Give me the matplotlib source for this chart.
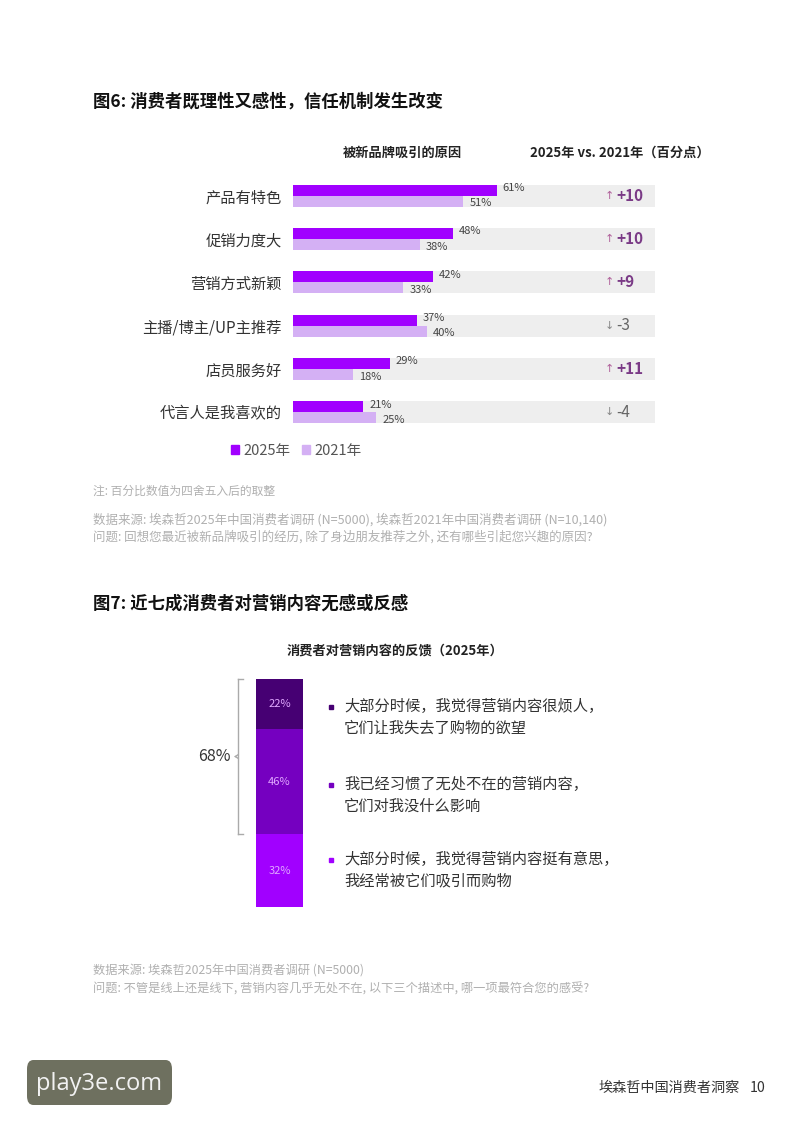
import matplotlib
matplotlib.use("Agg")
import matplotlib.pyplot as plt
import matplotlib.transforms as mtransforms
from matplotlib.patches import Patch, FancyBboxPatch
from matplotlib.lines import Line2D

plt.rcParams['font.family'] = ['Noto Sans CJK SC', 'DejaVu Sans']

# ── data ────────────────────────────────────────────────────────────────────
reasons = ["产品有特色", "促销力度大", "营销方式新颖", "主播/博主/UP主推荐", "店员服务好", "代言人是我喜欢的"]
pct_2025 = [61, 48, 42, 37, 29, 21]
pct_2021 = [51, 38, 33, 40, 18, 25]
delta_pts = [10, 10, 9, -3, 11, -4]

feedback_vals = [22, 46, 32]
feedback_text = [
    "大部分时候，我觉得营销内容很烦人，\n它们让我失去了购物的欲望",
    "我已经习惯了无处不在的营销内容，\n它们对我没什么影响",
    "大部分时候，我觉得营销内容挺有意思，\n我经常被它们吸引而购物",
]
bracket_total = 68

C25, C21, CBAND = "#a100ff", "#d4b0f4", "#eeeeee"
SEG_COLORS = ["#460073", "#7500c0", "#a100ff"]
TXT, NOTE = "#333333", "#b0b0b0"

W, H = 800, 1131
fig = plt.figure(figsize=(W / 100, H / 100), dpi=100)
fig.patch.set_facecolor("white")


def box(x0, y0, x1, y1):
    return [x0 / W, 1 - y1 / H, (x1 - x0) / W, (y1 - y0) / H]


def ftext(x, y, s, **kw):
    fig.text(x / W, 1 - y / H, s, **kw)


# ── figure 6 ────────────────────────────────────────────────────────────────
ftext(93, 102, "图6: 消费者既理性又感性，信任机制发生改变", fontsize=12.5,
      fontweight="bold", color="#111111", va="center")
ftext(402, 153, "被新品牌吸引的原因", fontsize=9.5, fontweight="bold",
      color="#222222", ha="center", va="center")
ftext(530, 153, "2025年 vs. 2021年（百分点）", fontsize=9.5, fontweight="bold",
      color="#222222", va="center")

ax = fig.add_axes(box(293, 172, 655, 436))
n = len(reasons)
ys = list(range(n))
bh = 0.255
ax.barh(ys, [108.4] * n, height=2 * bh, color=CBAND, zorder=0)
ax.barh([y - bh / 2 for y in ys], pct_2025, height=bh, color=C25, zorder=2)
ax.barh([y + bh / 2 for y in ys], pct_2021, height=bh, color=C21, zorder=2)
for y, a, b in zip(ys, pct_2025, pct_2021):
    ax.text(a + 1.8, y - bh / 2 - 0.05, f"{a}%", fontsize=8, color="#444444", va="center", zorder=3)
    ax.text(b + 1.8, y + bh / 2 + 0.05, f"{b}%", fontsize=8, color="#444444", va="center", zorder=3)

trans = mtransforms.blended_transform_factory(ax.transAxes, ax.transData)
for y, d in zip(ys, delta_pts):
    if d > 0:
        ax.text(0.873, y, "↑", transform=trans, fontsize=8, color="#b0609a",
                ha="center", va="center", family="DejaVu Sans")
        ax.text(0.893, y, f"+{d}", transform=trans, fontsize=11, fontweight="bold",
                color="#7a3a86", va="center")
    else:
        ax.text(0.873, y, "↓", transform=trans, fontsize=8, color="#888888",
                ha="center", va="center", family="DejaVu Sans")
        ax.text(0.893, y, f"{d}", transform=trans, fontsize=11, color="#666666",
                va="center")

ax.set_xlim(0, 108.4)
ax.set_ylim(n - 0.45, -0.55)
ax.set_yticks(ys)
ax.set_yticklabels(reasons, fontsize=11, color=TXT)
ax.tick_params(axis="y", length=0, pad=8)
ax.set_xticks([])
for s in ax.spines.values():
    s.set_visible(False)

fig.legend(handles=[Patch(color=C25), Patch(color=C21)], labels=["2025年", "2021年"],
           loc="center left", bbox_to_anchor=(218 / W, 1 - 451 / H), ncol=2,
           frameon=False, fontsize=10.5, handlelength=0.55, handleheight=0.55,
           handletextpad=0.3, columnspacing=0.8, labelcolor="#555555")

ftext(93, 491, "注: 百分比数值为四舍五入后的取整", fontsize=8.5, color=NOTE, va="center")
ftext(93, 520, "数据来源: 埃森哲2025年中国消费者调研 (N=5000), 埃森哲2021年中国消费者调研 (N=10,140)",
      fontsize=9, color=NOTE, va="center")
ftext(93, 537, "问题: 回想您最近被新品牌吸引的经历, 除了身边朋友推荐之外, 还有哪些引起您兴趣的原因?",
      fontsize=9, color=NOTE, va="center")

# ── figure 7 ────────────────────────────────────────────────────────────────
ftext(93, 604, "图7: 近七成消费者对营销内容无感或反感", fontsize=12.5,
      fontweight="bold", color="#111111", va="center")
ftext(395, 651, "消费者对营销内容的反馈（2025年）", fontsize=9.5, fontweight="bold",
      color="#222222", ha="center", va="center")

ax2 = fig.add_axes(box(256, 679, 303, 907))
bottom = 0
for v, c in zip(feedback_vals, SEG_COLORS):
    ax2.bar(0, v, bottom=bottom, width=1, color=c)
    ax2.text(0, bottom + v / 2, f"{v}%", fontsize=8, color="#e0a8ff",
             ha="center", va="center")
    bottom += v
ax2.set_xlim(-0.5, 0.5)
ax2.set_ylim(100, 0)
ax2.axis("off")

bt = mtransforms.blended_transform_factory(ax2.transAxes, ax2.transData)
bx, tick = -0.38, 0.1
for seg in ([bx, bx], [0, bracket_total]), ([bx, bx + tick], [0, 0]), \
           ([bx, bx + tick], [bracket_total, bracket_total]), \
           ([bx, bx - 0.06], [bracket_total / 2 - 0.8, bracket_total / 2]), \
           ([bx, bx - 0.06], [bracket_total / 2 + 0.8, bracket_total / 2]):
    ax2.add_line(Line2D(seg[0], seg[1], transform=bt, color="#aaaaaa",
                        linewidth=1, clip_on=False))
ax2.text(-0.55, bracket_total / 2, f"{bracket_total}%", transform=bt, fontsize=11.5,
         color=TXT, ha="right", va="center")

text_y = [717, 795, 870]
for ty, t, c in zip(text_y, feedback_text, SEG_COLORS):
    fig.add_artist(Line2D([331 / W], [1 - (ty - 10) / H], marker="s", markersize=3.2,
                          color=c, linestyle="none"))
    ftext(344, ty, t, fontsize=11, color=TXT, va="center", linespacing=1.35)

ftext(93, 970, "数据来源: 埃森哲2025年中国消费者调研 (N=5000)", fontsize=8.8,
      color=NOTE, va="center")
ftext(93, 989, "问题: 不管是线上还是线下, 营销内容几乎无处不在, 以下三个描述中, 哪一项最符合您的感受?",
      fontsize=8.8, color=NOTE, va="center")

# ── footer ──────────────────────────────────────────────────────────────────
ftext(740, 1088, "埃森哲中国消费者洞察", fontsize=10.2, color="#333333", ha="right", va="center")
ftext(750, 1088, "10", fontsize=10.2, color="#333333", va="center")

fig.add_artist(FancyBboxPatch((27 / W, 1 - 1105 / H), 145 / W, 45 / H,
                              boxstyle="round,pad=0,rounding_size=0.008",
                              transform=fig.transFigure, facecolor="#6e705f",
                              edgecolor="none"))
ftext(99, 1084, "play3e.com", fontsize=17, color="#f2f2f2", ha="center", va="center",
      family="Open Sans")

fig.savefig("out.png", dpi=100, facecolor="white")
